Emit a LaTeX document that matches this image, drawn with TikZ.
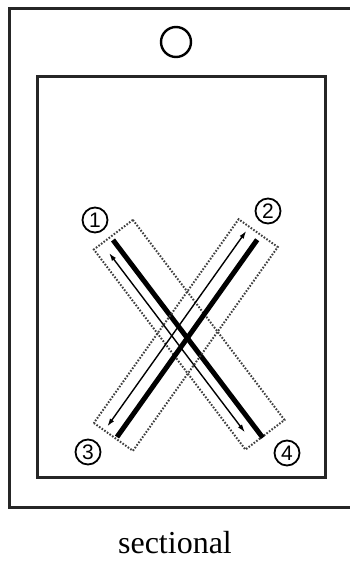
\documentclass[tikz,border=0pt]{standalone}
\usepackage{fontspec}
\setmainfont{Liberation Serif}
\newfontfamily\numfont{Liberation Sans}
\usepackage{tikz}
\usetikzlibrary{arrows.meta,positioning}

\begin{document}
\begin{tikzpicture}[
  x=1pt,y=-1pt,
  frame/.style={draw=black!85,line width=3pt},
  bar/.style={line width=5pt,line cap=butt},
  guide/.style={{Latex[length=8pt,width=5pt]}-{Latex[length=8pt,width=5pt]},line width=1.4pt},
  zone/.style={draw=black!75,dash pattern=on 1.6pt off 1.6pt,line width=2pt},
  num/.style={circle,draw,line width=1.8pt,minimum size=25pt,inner sep=0pt,
              font=\numfont\fontsize{21}{21}\selectfont}
]
\useasboundingbox[clip] (0,0) rectangle (350,564);
% housing and opening
\draw[frame] (9,9) rectangle (360,507);
\draw[frame] (37,77) rectangle (325,477);
\node[circle,draw,line width=2.4pt,minimum size=30pt,inner sep=0pt] (hole) at (176,42) {};
% path 1 -> 4
\begin{scope}[shift={(113,240)},rotate=-52.85]
  \coordinate (a1) at (0,0);
  \coordinate (a4) at (248,0);
  \coordinate (g1) at (8,11);
  \coordinate (g4) at (233,11);
  \draw[zone] (-4,-28) rectangle (247,21);
  \draw[bar] (a1) -- (a4);
  \draw[guide] (g1) -- (g4);
\end{scope}
% path 3 -> 2
\begin{scope}[shift={(117,437)},rotate=54.6]
  \coordinate (b3) at (0,0);
  \coordinate (b2) at (242,0);
  \coordinate (h3) at (3,-14);
  \coordinate (h2) at (243,-14);
  \draw[zone] (-2,-27) rectangle (248,21);
  \draw[bar] (b3) -- (b2);
  \draw[guide] (h3) -- (h2);
\end{scope}
\node[num] (n1) at (95,220) {1};
\node[num] (n2) at (268,211) {2};
\node[num] (n3) at (88,452) {3};
\node[num] (n4) at (287,453) {4};
\node[anchor=base,font=\fontsize{32}{38}\selectfont] (cap) at (175,553) {sectional};
\end{tikzpicture}
\end{document}
